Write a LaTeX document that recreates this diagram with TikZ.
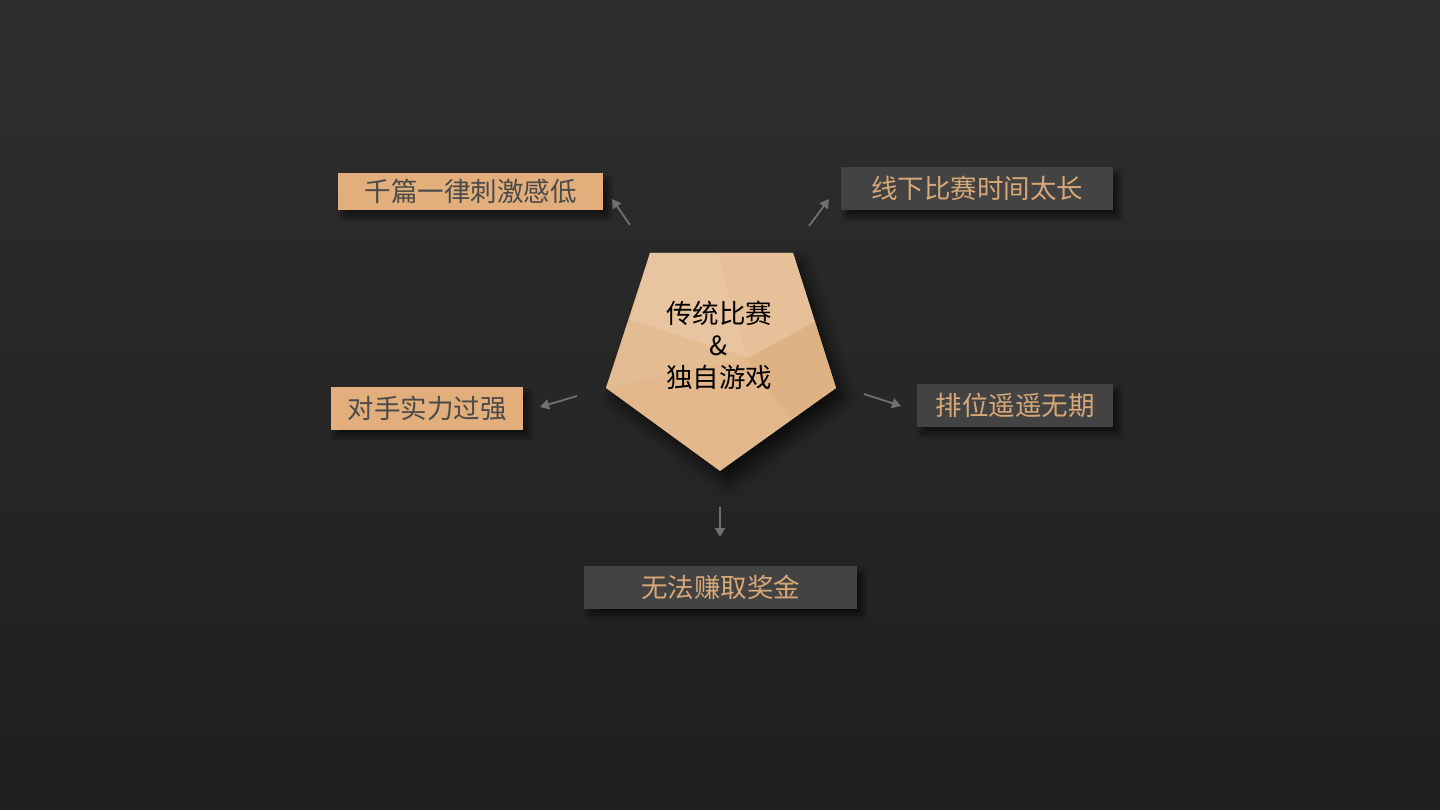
\documentclass[tikz,border=0pt]{standalone}
\usepackage{fontspec}
\setmainfont{Noto Sans CJK SC}
\usetikzlibrary{shadows.blur,arrows.meta}
\definecolor{bgtop}{HTML}{2E2E2E}
\definecolor{bgbot}{HTML}{1F1F1F}
\definecolor{tan}{HTML}{E1AE7C}
\definecolor{tantext}{HTML}{D8A878}
\definecolor{boxgray}{HTML}{434343}
\definecolor{darktext}{HTML}{4A4A4A}
\definecolor{arrowgray}{HTML}{707070}
\definecolor{pentA}{HTML}{E3B88C}
\definecolor{pentB}{HTML}{E8C5A0}
\definecolor{pentC}{HTML}{E6C098}
\definecolor{pentD}{HTML}{DFB283}
\tikzset{
  boxshadow/.style={blur shadow={shadow xshift=5pt, shadow yshift=-6pt, shadow opacity=60, shadow blur steps=8, shadow blur radius=6pt}},
  tanbox/.style={fill=tan, inner sep=0pt, anchor=north west, boxshadow},
  graybox/.style={fill=boxgray, inner sep=0pt, anchor=north west, boxshadow},
  darklabel/.style={text=darktext, font=\fontsize{26.5}{28}\selectfont},
  tanlabel/.style={text=tantext, font=\fontsize{26.5}{28}\selectfont},
  arr/.style={draw=arrowgray, line width=1.8pt, -{Triangle[length=9pt,width=10pt]}},
}
\begin{document}
\begin{tikzpicture}[x=1pt,y=-1pt]
\shade[top color=bgtop, bottom color=bgbot] (0,0) rectangle (1440,810);
\useasboundingbox (0,0) rectangle (1440,810);
% pentagon with soft shadow
\fill[pentA, blur shadow={shadow xshift=8pt, shadow yshift=-10pt, shadow opacity=70, shadow blur steps=12, shadow blur radius=14pt}]
  (650,253) -- (793,253) -- (836,388) -- (720,471) -- (606,388) -- cycle;
% facets
\coordinate (pc) at (748,358);
\fill[pentB] (650,253) -- (718,253) -- (pc) -- (630,320) -- cycle;
\fill[pentC] (718,253) -- (793,253) -- (815,322) -- (pc) -- cycle;
\fill[pentD] (pc) -- (815,322) -- (836,388) -- (790,420) -- cycle;
\fill[pentC!50!pentA] (630,320) -- (pc) -- (606,388) -- cycle;
\node[text=black, font=\fontsize{26.5}{32}\selectfont, align=center] (center) at (719,345) {传统比赛\\\&\\独自游戏};
% boxes
\node[tanbox, minimum width=265pt, minimum height=37pt] (b1) at (338,173) {};
\node[darklabel] (t1) at (b1.center) {千篇一律刺激感低};
\node[graybox, minimum width=272pt, minimum height=43pt] (b2) at (841,167) {};
\node[tanlabel] (t2) at (b2.center) {线下比赛时间太长};
\node[tanbox, minimum width=192pt, minimum height=43pt] (b3) at (331,387) {};
\node[darklabel] (t3) at (b3.center) {对手实力过强};
\node[graybox, minimum width=196pt, minimum height=43pt] (b4) at (917,384) {};
\node[tanlabel] (t4) at (b4.center) {排位遥遥无期};
\node[graybox, minimum width=273pt, minimum height=43pt] (b5) at (584,566) {};
\node[tanlabel] (t5) at (b5.center) {无法赚取奖金};
% arrows
\coordinate (a1s) at (630,225); \coordinate (a1e) at (612,199);
\coordinate (a2s) at (809,226); \coordinate (a2e) at (829,199);
\coordinate (a3s) at (577,396); \coordinate (a3e) at (540,407);
\coordinate (a4s) at (864,394); \coordinate (a4e) at (901,406);
\coordinate (a5s) at (720,507); \coordinate (a5e) at (720,537);
\draw[arr] (a1s) -- (a1e);
\draw[arr] (a2s) -- (a2e);
\draw[arr] (a3s) -- (a3e);
\draw[arr] (a4s) -- (a4e);
\draw[arr] (a5s) -- (a5e);
\end{tikzpicture}
\end{document}
